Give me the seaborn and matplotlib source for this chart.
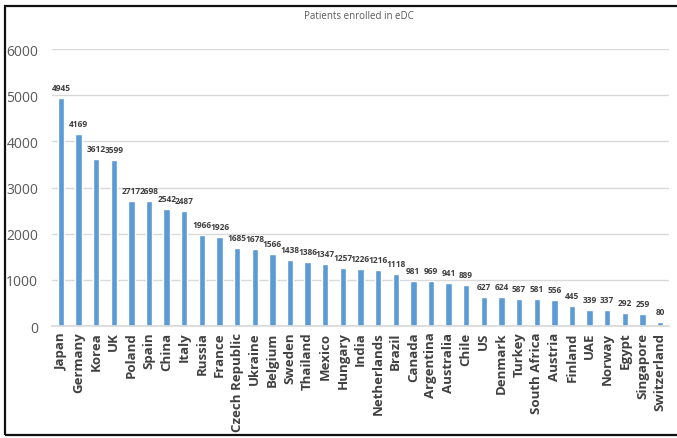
import matplotlib

matplotlib.use("Agg")

import matplotlib.pyplot as plt
import pandas as pd
import seaborn as sns
from matplotlib.patches import Rectangle

countries = [
    "Japan", "Germany", "Korea", "UK", "Poland", "Spain", "China", "Italy",
    "Russia", "France", "Czech Republic", "Ukraine", "Belgium", "Sweden",
    "Thailand", "Mexico", "Hungary", "India", "Netherlands", "Brazil",
    "Canada", "Argentina", "Australia", "Chile", "US", "Denmark", "Turkey",
    "South Africa", "Austria", "Finland", "UAE", "Norway", "Egypt",
    "Singapore", "Switzerland",
]
patients = [
    4945, 4169, 3612, 3599, 2717, 2698, 2542, 2487, 1966, 1926, 1685, 1678,
    1566, 1438, 1386, 1347, 1257, 1226, 1216, 1118, 981, 969, 941, 889, 627,
    624, 587, 581, 556, 445, 339, 337, 292, 259, 80,
]
y_ticks = [0, 1000, 2000, 3000, 4000, 5000, 6000]

df = pd.DataFrame({"country": countries, "patients": patients})

sns.set_theme(style="white")
plt.rcParams["font.family"] = ["Open Sans", "DejaVu Sans"]

fig = plt.figure(figsize=(6.77, 4.39), dpi=100)
ax = fig.add_axes([0.077, 0.255, 0.911, 0.631])

sns.barplot(data=df, x="country", y="patients", color="#5B9BD5",
            saturation=1, width=0.36, ax=ax)

ax.set_ylim(0, 6000)
ax.set_yticks(y_ticks)
ax.set_yticklabels([str(t) for t in y_ticks], fontsize=10, color="#595959")
ax.yaxis.grid(True, color="#D9D9D9", linewidth=1)
ax.set_axisbelow(True)
for side in ["top", "right", "left"]:
    ax.spines[side].set_visible(False)
ax.spines["bottom"].set_color("#D9D9D9")
ax.tick_params(axis="y", length=0, pad=10)
ax.tick_params(axis="x", length=0, pad=4)
ax.set_xticks(range(len(countries)))
ax.set_xticklabels(countries, rotation=90, fontsize=9.5, color="#404040",
                   fontweight="bold")
ax.set_xlabel("")
ax.set_ylabel("")
ax.set_xlim(-0.5, len(countries) - 0.5)

for i, v in enumerate(patients):
    ax.text(i, v + 130, str(v), ha="center", va="bottom", fontsize=6,
            color="#404040", fontweight="bold")

fig.text(0.53, 0.962, "Patients enrolled in eDC", ha="center", va="center",
         fontsize=7, color="#595959")

# screenshot frame around the chart
fig.patches.append(Rectangle((5 / 677, 3 / 439), 680 / 677, 429 / 439,
                             transform=fig.transFigure, fill=False,
                             edgecolor="#111111", linewidth=1.6))

fig.savefig("out.png", dpi=100, facecolor="white")
